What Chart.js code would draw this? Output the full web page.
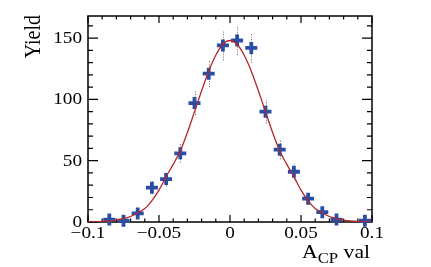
<!DOCTYPE html>
<html>
<head>
<meta charset="utf-8">
<script src="https://cdn.jsdelivr.net/npm/chart.js@4.4.1/dist/chart.umd.min.js"></script>
<style>
  html, body { margin: 0; padding: 0; background: #fff; }
  #wrap { width: 431px; height: 267px; }
</style>
</head>
<body>
<div id="wrap"><canvas id="fitChart" width="431" height="267"></canvas></div>
<script>
// histogram bins (centres) and yields
var binX = [-0.085, -0.075, -0.065, -0.055, -0.045, -0.035, -0.025, -0.015, -0.005,
            0.005, 0.015, 0.025, 0.035, 0.045, 0.055, 0.065, 0.075, 0.095];
var yields = [2, 1, 7, 28, 35, 56, 97, 121, 144, 148, 142, 90, 59, 41, 19, 8, 2, 1];
var yieldErr = [1.4, 1, 2.6, 5.3, 5.9, 7.5, 9.8, 11, 12, 12, 12, 9.5, 7.7, 6.4, 4.4, 2.8, 1.4, 1];

// fit curve
var curveX = [-0.1, -0.095, -0.09, -0.085, -0.08, -0.075, -0.07, -0.065, -0.06, -0.055, -0.05,
              -0.045, -0.04, -0.035, -0.03, -0.025, -0.02, -0.015, -0.01, -0.005, 0,
              0.005, 0.01, 0.015, 0.02, 0.025, 0.03, 0.035, 0.04, 0.045, 0.05,
              0.055, 0.06, 0.065, 0.07, 0.075, 0.08, 0.085, 0.09, 0.095, 0.1];
var curveY = [0.1, 0.25, 0.5, 0.9, 1.6, 2.8, 4.5, 7.5, 11, 17.5, 26,
              37, 47, 58, 73, 90, 107, 123, 136, 145, 148,
              145, 136, 123, 107, 90, 73, 58, 47, 37, 26,
              17.5, 11, 7.5, 4.5, 2.8, 1.6, 0.9, 0.5, 0.25, 0.1];

// axis ticks
var xMajor = [-0.1, -0.05, 0, 0.05, 0.1];
var xLabels = ['\u22120.1', '\u22120.05', '0', '0.05', '0.1'];
var xMinor = [-0.09, -0.08, -0.07, -0.06, -0.04, -0.03, -0.02, -0.01,
              0.01, 0.02, 0.03, 0.04, 0.06, 0.07, 0.08, 0.09];
var yMajor = [0, 50, 100, 150];
var yMinor = [10, 20, 30, 40, 60, 70, 80, 90, 110, 120, 130, 140, 160];

var SERIF = '"Liberation Serif", "DejaVu Serif", serif';
var SX = 1.2;   // text in the picture is a bit wide

function drawText(ctx, s, x, y, align, size) {
    ctx.save();
    ctx.translate(x, y);
    ctx.scale(SX, 1);
    ctx.font = size + 'px ' + SERIF;
    ctx.textAlign = align;
    ctx.textBaseline = 'alphabetic';
    ctx.fillText(s, 0, 0);
    ctx.restore();
}
function textW(ctx, s, size) {
    ctx.font = size + 'px ' + SERIF;
    return ctx.measureText(s).width * SX;
}

// error bars (dotted) drawn under the crosses
var errorBars = {
    id: 'errorBars',
    beforeDatasetsDraw: function (chart) {
        var ctx = chart.ctx, xs = chart.scales.x, ys = chart.scales.y;
        ctx.save();
        ctx.strokeStyle = '#666';
        ctx.lineWidth = 1;
        ctx.setLineDash([1, 1.5]);
        for (var i = 0; i < binX.length; i++) {
            var px = Math.round(xs.getPixelForValue(binX[i])) + 0.5;
            ctx.beginPath();
            ctx.moveTo(px, ys.getPixelForValue(yields[i] - yieldErr[i]));
            ctx.lineTo(px, ys.getPixelForValue(yields[i] + yieldErr[i]));
            ctx.stroke();
        }
        ctx.restore();
    }
};

// ROOT-like frame, inward ticks and labels
var rootFrame = {
    id: 'rootFrame',
    beforeDatasetsDraw: function (chart) {
        var ctx = chart.ctx, a = chart.chartArea;
        var xs = chart.scales.x, ys = chart.scales.y;
        ctx.save();
        ctx.strokeStyle = '#000';
        ctx.lineWidth = 1.5;
        ctx.strokeRect(a.left, a.top, a.right - a.left, a.bottom - a.top);

        ctx.lineWidth = 1.2;
        ctx.beginPath();
        xMajor.forEach(function (v) {
            var p = xs.getPixelForValue(v);
            ctx.moveTo(p, a.bottom); ctx.lineTo(p, a.bottom - 7);
            ctx.moveTo(p, a.top); ctx.lineTo(p, a.top + 7);
        });
        xMinor.forEach(function (v) {
            var p = xs.getPixelForValue(v);
            ctx.moveTo(p, a.bottom); ctx.lineTo(p, a.bottom - 3.5);
            ctx.moveTo(p, a.top); ctx.lineTo(p, a.top + 3.5);
        });
        yMajor.forEach(function (v) {
            var p = ys.getPixelForValue(v);
            ctx.moveTo(a.left, p); ctx.lineTo(a.left + 10, p);
            ctx.moveTo(a.right, p); ctx.lineTo(a.right - 10, p);
        });
        yMinor.forEach(function (v) {
            var p = ys.getPixelForValue(v);
            ctx.moveTo(a.left, p); ctx.lineTo(a.left + 5, p);
            ctx.moveTo(a.right, p); ctx.lineTo(a.right - 5, p);
        });
        ctx.stroke();

        ctx.fillStyle = '#000';
        xMajor.forEach(function (v, i) {
            drawText(ctx, xLabels[i], xs.getPixelForValue(v), a.bottom + 16, 'center', 16);
        });
        yMajor.forEach(function (v) {
            drawText(ctx, String(v), a.left - 6, ys.getPixelForValue(v) + 5, 'right', 16);
        });

        // x title: A_CP val, right aligned to the frame
        var wA = textW(ctx, 'A', 18), wCP = textW(ctx, 'CP', 14), wV = textW(ctx, ' val', 18);
        var x0 = a.right - 2 - (wA + wCP + wV);
        drawText(ctx, 'A', x0, a.bottom + 36, 'left', 18);
        drawText(ctx, 'CP', x0 + wA, a.bottom + 41, 'left', 14);
        drawText(ctx, ' val', x0 + wA + wCP, a.bottom + 36, 'left', 18);

        // y title
        ctx.save();
        ctx.translate(40, a.top - 1);
        ctx.rotate(-Math.PI / 2);
        ctx.scale(1, SX);
        ctx.font = '20px ' + SERIF;
        ctx.textAlign = 'right';
        ctx.textBaseline = 'alphabetic';
        ctx.fillText('Yield', 0, 0);
        ctx.restore();
        ctx.restore();
    }
};

var ctx = document.getElementById('fitChart').getContext('2d');
var fitChart = new Chart(ctx, {
    type: 'scatter',
    data: {
        datasets: [{
            label: 'fit',
            data: curveX.map(function (x, i) { return { x: x, y: curveY[i] }; }),
            showLine: true,
            borderColor: '#b3262b',
            borderWidth: 1.3,
            pointRadius: 0,
            cubicInterpolationMode: 'monotone',
            order: 0
        }, {
            label: 'Yield',
            data: binX.map(function (x, i) { return { x: x, y: yields[i] }; }),
            pointStyle: 'cross',
            pointRadius: 6,
            borderWidth: 3.8,
            borderColor: '#2a4ea6',
            backgroundColor: '#2a4ea6',
            clip: false,
            order: 1
        }]
    },
    options: {
        responsive: false,
        animation: false,
        devicePixelRatio: 1,
        layout: { padding: { left: 88, right: 59, top: 16, bottom: 45 } },
        plugins: { legend: { display: false }, tooltip: { enabled: false } },
        scales: {
            x: { type: 'linear', display: false, min: -0.1, max: 0.1 },
            y: { type: 'linear', display: false, min: 0, max: 168 }
        }
    },
    plugins: [rootFrame, errorBars]
});
</script>
</body>
</html>
